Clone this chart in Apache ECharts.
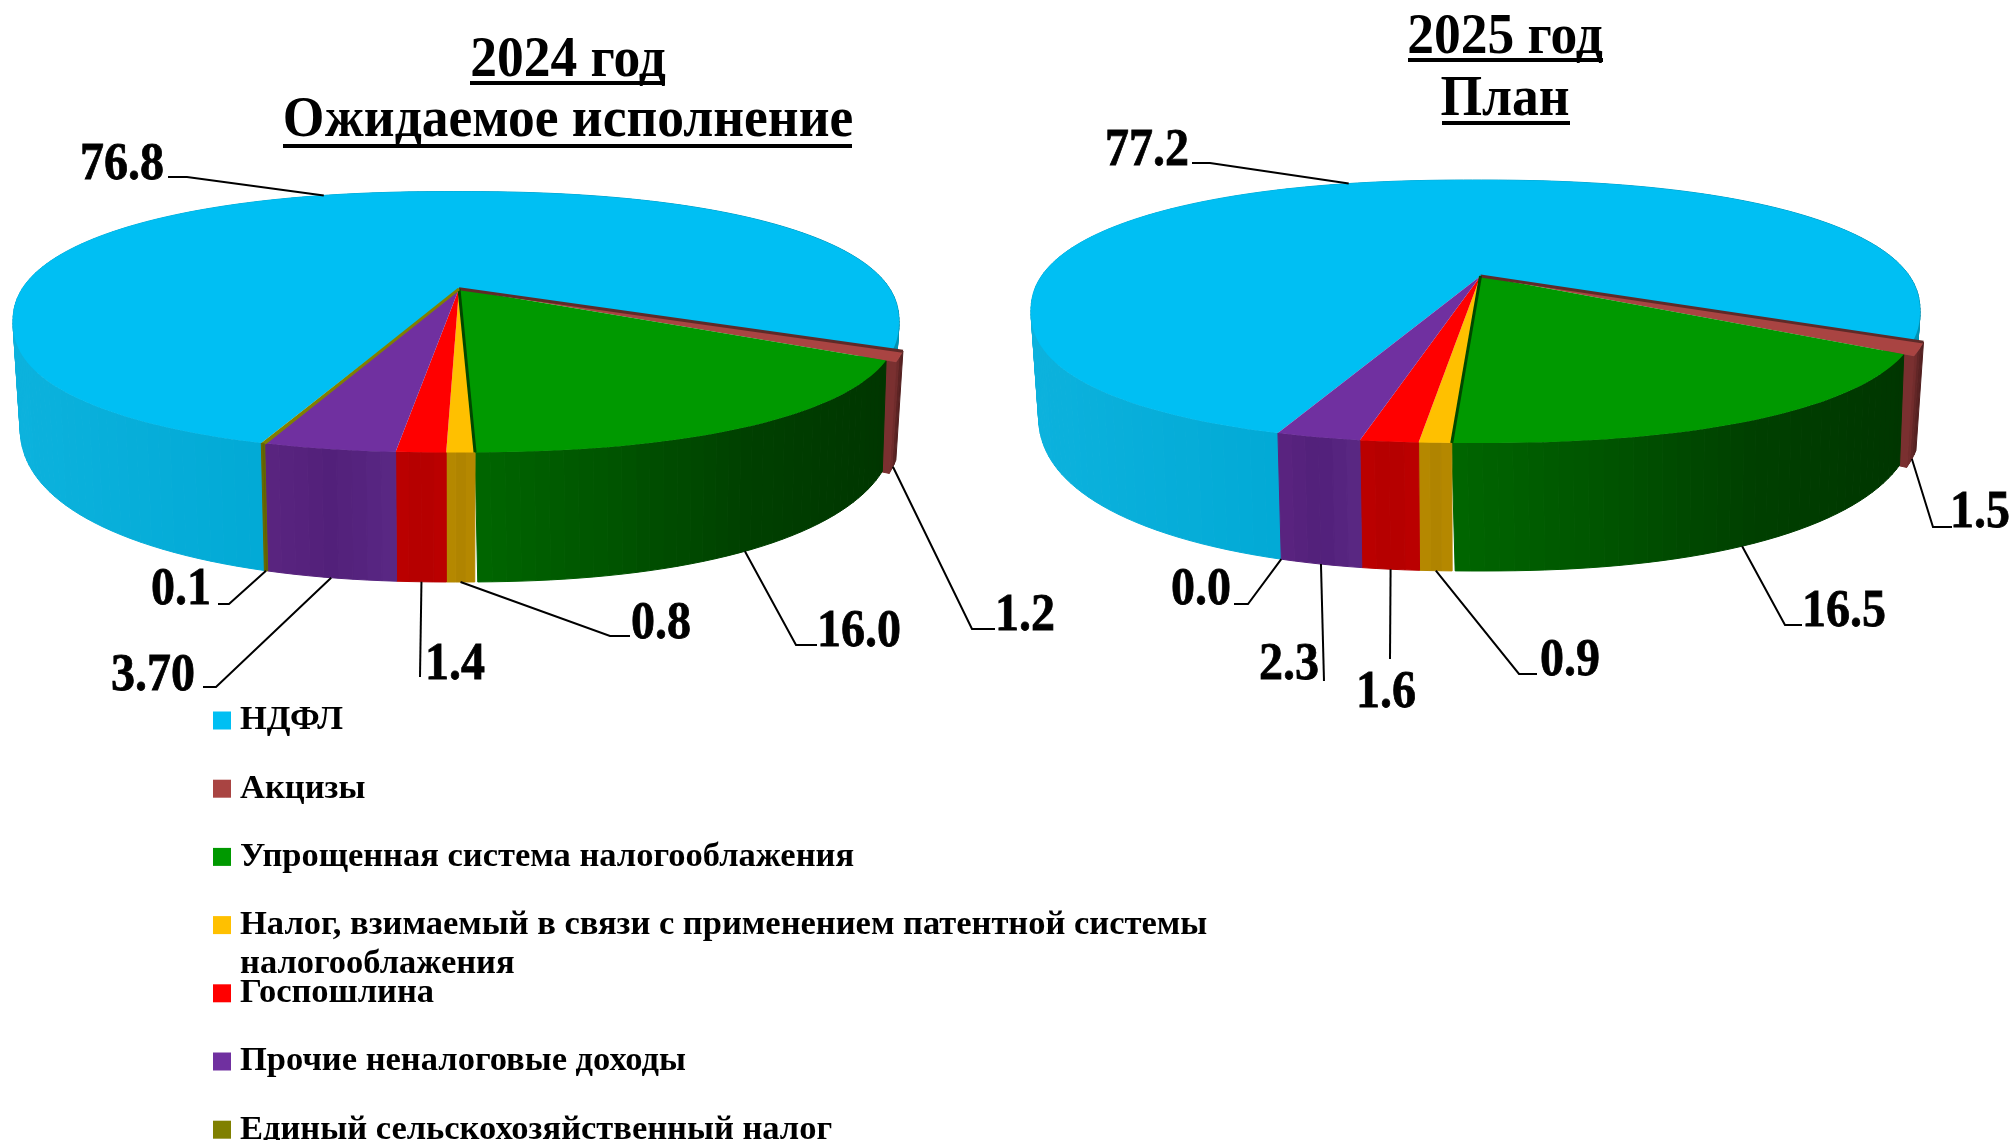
<!DOCTYPE html>
<html><head><meta charset="utf-8">
<style>html,body{margin:0;padding:0;background:#fff}#c{width:2014px;height:1140px}</style>
<script src="https://cdn.jsdelivr.net/npm/echarts@6/dist/echarts.min.js"></script>
</head><body><div id="c"></div>
<script>
const categories = ['НДФЛ','Акцизы','Упрощенная система налогооблажения','Налог, взимаемый в связи с применением патентной системы','Госпошлина','Прочие неналоговые доходы','Единый сельскохозяйственный налог'];
const categoryContinuation = 'налогооблажения';
const values2024 = [76.8,1.2,16.0,0.8,1.4,3.7,0.1];
const values2025 = [77.2,1.5,16.5,0.9,1.6,2.3,0.0];
const labels2024 = ['76.8','1.2','16.0','0.8','1.4','3.70','0.1'];
const labels2025 = ['77.2','1.5','16.5','0.9','1.6','2.3','0.0'];
const titles2024 = ['2024 год','Ожидаемое исполнение'];
const titles2025 = ['2025 год','План'];

const topColors = ['#00BFF3','#A94442','#009900','#FFC000','#FF0000','#7030A0','#808000'];
const wallColors = [['#0CB2DD','#00A8D4','#00A0CC','#0092B4'],['#7A3030','#5E2424','#4E1E1E'],['#006600','#005400','#004000','#003600'],['#B88A00','#B08400','#B88A00'],['#BC0000','#B40000','#BC0000'],['#5A2480','#52207A','#5A2884'],['#6A6A00','#606000','#6A6A00']];
const radialScale = [1,1.02,1,1,1,1,1];
const bottomShift = [0,0,3,0,0,0,0];
const edgeColors = [null,'#5E2A28','#004800',null,null,null,'#808000'];

const pies = [
 {values:values2024,labels:labels2024,start:199.7,cx:456,cy:322,rx:443,ry:130.5,b:-0.254,ax:3,bcy:425,brx:436,bry:157,
  text:[[122,165],[1025,616],[859,632],[661,624],[455,665],[153,676],[181,590]],
  bend:[[[187,177],[168,177]],[[972,629],[995,629]],[[796,645],[817,645]],[[610,636],[630,636]],[[420,677]],[[216,687],[203,687]],[[229,604],[218,604]]]},
 {values:values2025,labels:labels2025,start:199.6,cx:1475.5,cy:311.5,rx:444.5,ry:131.5,b:-0.27,ax:5,bcy:414,brx:437,bry:157,
  text:[[1147,151],[1980,513],[1844,612],[1570,661],[1386,693],[1289,665],[1201,590]],
  bend:[[[1210,163],[1192,163]],[[1933,527],[1952,527]],[[1785,625],[1802,625]],[[1519,674],[1537,674]],[[1390,659]],[[1324,681]],[[1248,604],[1234,604]]]}
];
const labelFont = 'bold 48px "Liberation Serif"';
const SUPER = 2.25;

function project(p, r, deg, bottom, shift){
  const t = deg*Math.PI/180, u = r*Math.sin(t), v = -r*Math.cos(t), d = 1+p.b*v;
  let un = u*Math.sqrt(1-p.b*p.b)/d, vn = (v+p.b)/d;
  const h = Math.hypot(un,vn);
  if(h>0){ const f = h/Math.pow(Math.pow(Math.abs(un),SUPER)+Math.pow(Math.abs(vn),SUPER),1/SUPER); const g = 1+(f-1)*Math.min(1,r); un*=g; vn*=g; }
  return bottom ? [p.cx+un*p.brx+(shift||0), p.bcy+vn*p.bry] : [p.cx+un*p.rx, p.cy+vn*p.ry];
}

function renderSlice(cat){
  return function(params, api){
    const p = pies[api.value(0)], val = api.value(1);
    let s = p.start;
    for(let i=0;i<cat;i++) s += p.values[i]*3.6;
    const e = s+val*3.6, r = radialScale[cat], n = Math.max(3,Math.ceil((e-s)/1.5));
    const topArc=[], botArc=[];
    for(let i=0;i<=n;i++){
      const a=s+(e-s)*i/n;
      topArc.push(project(p,r,a,false));
      botArc.push(project(p,r,a,true,bottomShift[cat]));
    }
    const c0 = project(p,0,0,false), apex=[c0[0]+p.ax,c0[1]];
    const w = wallColors[cat], kids=[];
    if(val>0){
      const xs = topArc.map(q=>q[0]), x0 = cat===0 ? p.cx-p.rx : Math.min.apply(null,xs), x1 = cat===0 ? p.cx+p.rx : Math.max.apply(null,xs);
      for(let i=0;i<n;i++){
        const k = Math.max(0,Math.min(1,((topArc[i][0]+topArc[i+1][0])/2-x0)/Math.max(1,x1-x0)));
        const col = echarts.color.lerp(k,w);
        kids.push({type:'polygon',z2:1,shape:{points:[topArc[i],topArc[i+1],botArc[i+1],botArc[i]]},style:{fill:col,stroke:col,lineWidth:1}});
      }
      if(r>1){
        kids.push({type:'polygon',z2:1,shape:{points:[project(p,r,e,false),project(p,.96,e,false),project(p,.96,e,true),project(p,r,e,true)]},style:{fill:w[0],stroke:w[0],lineWidth:1}});
      }
      kids.push({type:'polygon',z2:2,shape:{points:[apex].concat(topArc)},style:{fill:topColors[cat]}});
      if(edgeColors[cat]){
        const ep = cat===2 ? topArc[n] : topArc[0];
        kids.push({type:'line',z2:2.5,shape:{x1:apex[0],y1:apex[1],x2:ep[0],y2:ep[1]},style:{stroke:edgeColors[cat],lineWidth:3}});
      }
    }
    const mid=(s+e)/2, isBack=Math.cos(mid*Math.PI/180)>0;
    const anchor=project(p,r,mid,!isBack,bottomShift[cat]);
    kids.push({type:'polyline',z2:3,shape:{points:[anchor].concat(p.bend[cat])},style:{fill:null,stroke:'#000',lineWidth:2}});
    const t=p.text[cat];
    kids.push({type:'text',z2:4,x:t[0],y:t[1],scaleY:1.12,style:{text:p.labels[cat],x:0,y:0,font:labelFont,fill:'#000',stroke:'#000',lineWidth:.7,align:'center',verticalAlign:'middle'}});
    return {type:'group',children:kids};
  };
}

const series = categories.map((name,i)=>({
  type:'custom',name,coordinateSystem:'none',silent:true,animation:false,
  itemStyle:{color:topColors[i]},
  data:[[0,values2024[i]],[1,values2025[i]]],
  encode:{value:[0,1]},
  renderItem:renderSlice(i)
}));

function titleText(text,x,y){return {type:'text',x,y,scaleY:1.08,z:10,style:{text,x:0,y:0,font:'bold 53.5px "Liberation Serif"',fill:'#000',align:'center',verticalAlign:'middle'}};}
function rule(x1,x2,y){return {type:'rect',z:10,shape:{x:x1,y:y-2,width:x2-x1,height:4},style:{fill:'#000'}};}

const chart = echarts.init(document.getElementById('c'));
chart.setOption({
  animation:false,
  backgroundColor:'#fff',
  legend:{orient:'vertical',left:213,top:703,height:480,padding:0,icon:'rect',itemWidth:18,itemHeight:18,itemGap:33.2,align:'left',selectedMode:false,
    textStyle:{fontFamily:'Liberation Serif',fontWeight:'bold',fontSize:34.5,color:'#000',padding:[0,0,0,4]},
    data:categories},
  graphic:[
    titleText(titles2024[0],568,61),rule(470,665,83),
    titleText(titles2024[1],568,121),rule(283,852,146),
    titleText(titles2025[0],1505,38),rule(1408,1603,60),
    titleText(titles2025[1],1505,100),rule(1442,1570,123),
    {type:'text',x:240,y:964,z:10,style:{text:categoryContinuation,x:0,y:0,font:'bold 34.5px "Liberation Serif"',fill:'#000',align:'left',verticalAlign:'middle'}}
  ],
  series
});
</script></body></html>
